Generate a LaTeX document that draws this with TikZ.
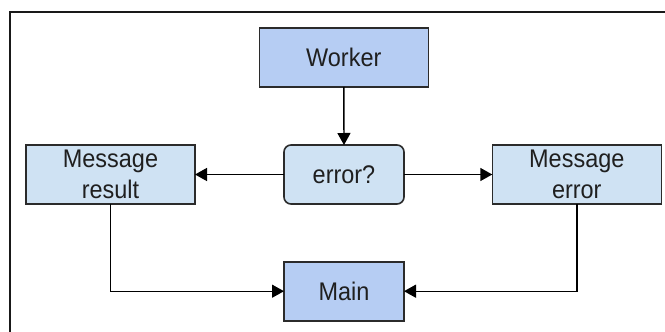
\documentclass[tikz,border=0pt]{standalone}
\usepackage{fontspec}
\setmainfont{Liberation Sans}
\newfontfamily\boxfont[FakeStretch=0.92]{Liberation Sans}
\usetikzlibrary{arrows.meta}
\definecolor{darkfill}{HTML}{B6CDF3}
\definecolor{lightfill}{HTML}{CFE2F3}
\definecolor{edge}{HTML}{2B2B2B}
\begin{document}
\begin{tikzpicture}[x=1pt,y=-1pt,
  box/.style={draw=edge,line width=1.6pt,inner sep=0pt,outer sep=0pt,align=center,
    font=\boxfont\fontsize{25.5}{31}\selectfont,text=black!88},
  bigbox/.style={box,minimum width=169pt,minimum height=59pt},
  smallbox/.style={box,minimum width=120pt,minimum height=59pt},
  conn/.style={draw=black,line width=1.4pt,-{Triangle[length=12pt,width=13pt]}}]
\useasboundingbox (0,0) rectangle (665,332);
\draw[line width=2pt,black!90] (10,333) -- (10,12) -- (666,12);
\node[bigbox,fill=darkfill] (worker) at (343.8,57.5) {Worker};
\node[smallbox,fill=lightfill,rounded corners=7pt] (err) at (344,174.5) {error?};
\node[bigbox,fill=lightfill] (res) at (110.5,174.5) {Message\\result};
\node[bigbox,fill=lightfill] (merr) at (576.8,174.5) {Message\\error};
\node[smallbox,fill=darkfill] (main) at (344,291.2) {Main};
\draw[conn] (worker.south) -- (err.north);
\draw[conn] (err.west) -- (res.east);
\draw[conn] (err.east) -- (merr.west);
\draw[conn] (res.south) |- (main.west);
\draw[conn] (merr.south) |- (main.east);
\end{tikzpicture}
\end{document}
